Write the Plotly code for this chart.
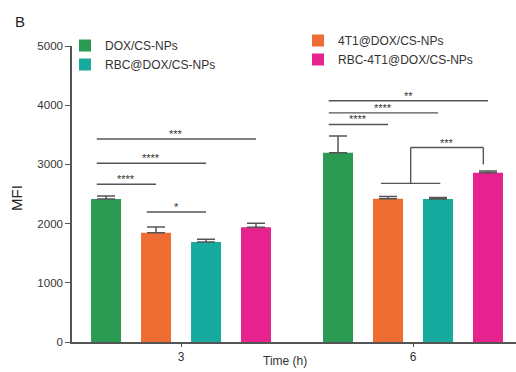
import plotly.graph_objects as go

# ---- data ----
time_groups = ["3", "6"]
series_names = ["DOX/CS-NPs", "4T1@DOX/CS-NPs", "RBC@DOX/CS-NPs", "RBC-4T1@DOX/CS-NPs"]
series_colors = ["#2b9a52", "#ef6d33", "#17ab9f", "#e6228f"]
series_legend = ["legend", "legend2", "legend", "legend2"]
mfi_mean = [
    [2415, 3198],
    [1846, 2421],
    [1689, 2415],
    [1937, 2860],
]
mfi_err = [
    [50, 280],
    [95, 35],
    [45, 25],
    [68, 28],
]
y_ticks = [0, 1000, 2000, 3000, 4000, 5000]

# significance: (group index, bar i, bar j, height, label)
sig_lines = [
    (0, 0, 3, 3430, "***"),
    (0, 0, 2, 3020, "****"),
    (0, 0, 1, 2665, "****"),
    (0, 1, 2, 2195, "*"),
    (1, 0, 3, 4075, "**"),
    (1, 0, 2, 3870, "****"),
    (1, 0, 1, 3675, "****"),
]
# bracket: group, (bars joined below), bar on right, low height, top height, right leg bottom, label
sig_brackets = [
    (1, (1, 2), 3, 2680, 3285, 3000, "***"),
]

n_series = len(series_names)
bargap = 0.138
slot = (1 - bargap) / n_series

# pixel geometry of the plot area
L, T, W, H = 72, 46, 444, 296


def bar_x(g, k):
    return g + (k - (n_series - 1) / 2) * slot


def px_x(px):
    return (px - L) / W


def px_y(py):
    return (T + H - py) / H


fig = go.Figure()
for k in range(n_series):
    fig.add_trace(go.Bar(
        x=time_groups,
        y=mfi_mean[k],
        name=series_names[k],
        marker=dict(color=series_colors[k], line=dict(width=0)),
        error_y=dict(type="data", symmetric=False, array=mfi_err[k],
                     arrayminus=[0] * len(time_groups),
                     color="#555555", thickness=1.5, width=9),
        legend=series_legend[k],
    ))

shapes = []
annotations = []
line_style = dict(color="#555555", width=1.4)
star_font = dict(size=11, color="#333333")
for g, i, j, h, lab in sig_lines:
    x0 = bar_x(g, i) - 0.04
    x1 = bar_x(g, j)
    shapes.append(dict(type="line", xref="x", yref="y", x0=x0, x1=x1, y0=h, y1=h, line=line_style))
    annotations.append(dict(x=(x0 + x1) / 2, y=h, xref="x", yref="y", text=lab, showarrow=False,
                            yanchor="bottom", font=star_font, yshift=-3))

for g, (a, b), r, low, top, rbot, lab in sig_brackets:
    xa = bar_x(g, a) - 0.03
    xb = bar_x(g, b) + 0.01
    xm = (xa + xb) / 2
    xr = bar_x(g, r) - 0.02
    shapes.append(dict(type="line", xref="x", yref="y", x0=xa, x1=xb, y0=low, y1=low, line=line_style))
    shapes.append(dict(type="line", xref="x", yref="y", x0=xm, x1=xm, y0=low, y1=top, line=line_style))
    shapes.append(dict(type="line", xref="x", yref="y", x0=xm, x1=xr, y0=top, y1=top, line=line_style))
    shapes.append(dict(type="line", xref="x", yref="y", x0=xr, x1=xr, y0=top, y1=rbot, line=line_style))
    annotations.append(dict(x=(xm + xr) / 2, y=top, xref="x", yref="y", text=lab, showarrow=False,
                            yanchor="bottom", font=star_font, yshift=-3))

annotations.append(dict(text="B", xref="paper", yref="paper", x=px_x(13), y=px_y(21), showarrow=False,
                        xanchor="left", yanchor="middle", font=dict(size=15, color="#222222")))
annotations.append(dict(text="MFI", xref="paper", yref="paper", x=px_x(16), y=px_y(198),
                        textangle=-90, showarrow=False, xanchor="center", yanchor="middle",
                        font=dict(size=15, color="#222222")))
annotations.append(dict(text="Time (h)", xref="paper", yref="paper", x=px_x(285), y=px_y(361),
                        showarrow=False, xanchor="center", yanchor="middle",
                        font=dict(size=12, color="#333333")))

fig.update_layout(
    width=516, height=372,
    margin=dict(l=L, r=516 - L - W, t=T, b=372 - T - H, autoexpand=False),
    paper_bgcolor="white", plot_bgcolor="white",
    font=dict(family="Liberation Sans, Arial, sans-serif", color="#333333"),
    barmode="group", bargap=bargap, bargroupgap=0.4,
    showlegend=True,
    legend=dict(x=px_x(65), y=px_y(31), xanchor="left", yanchor="top",
                font=dict(size=12, color="#333333"), bgcolor="rgba(0,0,0,0)",
                tracegroupgap=0, orientation="v"),
    legend2=dict(x=px_x(298), y=px_y(26), xanchor="left", yanchor="top",
                 font=dict(size=12, color="#333333"), bgcolor="rgba(0,0,0,0)",
                 tracegroupgap=0, orientation="v"),
    xaxis=dict(type="category", range=[-0.47, 1.444], showline=True, linecolor="#555555", linewidth=1.5,
               ticks="outside", ticklen=3, tickcolor="#555555", tickwidth=1.2,
               tickfont=dict(size=12, color="#333333"), showgrid=False, zeroline=False),
    yaxis=dict(range=[0, 5000], tickvals=y_ticks, showline=True, linecolor="#555555", linewidth=1.5,
               ticks="outside", ticklen=5, tickcolor="#555555", tickwidth=1.2,
               tickfont=dict(size=11.5, color="#333333"), showgrid=False, zeroline=False),
    shapes=shapes,
    annotations=annotations,
)

fig.write_html("out.html", config={"displayModeBar": False},
               post_script="document.body.style.margin='0';document.body.style.overflow='hidden';")
